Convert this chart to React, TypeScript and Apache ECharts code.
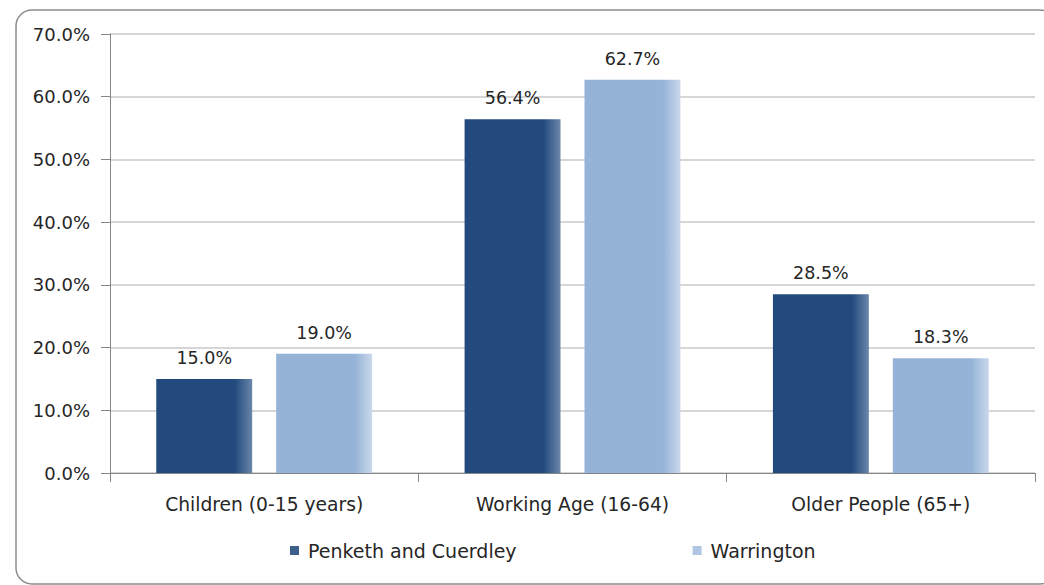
import React, { useEffect, useRef } from "react";
import * as echarts from "echarts";

const categories = ["Children (0-15 years)", "Working Age (16-64)", "Older People (65+)"];
const penketh = [15.0, 56.4, 28.5];
const warrington = [19.0, 62.7, 18.3];
const seriesNames = ["Penketh and Cuerdley", "Warrington"];

const FONT = "DejaVu Sans";
const FS = 17.5;

function barGradient(main: string, edge: string) {
  return new echarts.graphic.LinearGradient(0, 0, 1, 0, [
    { offset: 0, color: main },
    { offset: 0.82, color: main },
    { offset: 1, color: edge },
  ]);
}

export default function App() {
  const ref = useRef<HTMLDivElement>(null);
  useEffect(() => {
    document.body.style.margin = "0";
    const chart = echarts.init(ref.current!, undefined, { renderer: "svg" });
    const labelCfg = {
      show: true,
      position: "top" as const,
      distance: 12,
      fontFamily: FONT,
      fontSize: FS,
      color: "#262626",
      formatter: (p: any) => Number(p.value).toFixed(1) + "%",
    };
    chart.setOption({
      animation: false,
      backgroundColor: "#ffffff",
      graphic: [
        {
          type: "rect",
          shape: { x: 16, y: 10, width: 1040, height: 574, r: 16 },
          style: { fill: "none", stroke: "#8c8c8c", lineWidth: 1.5 },
          z: -1,
          silent: true,
        },
      ],
      grid: { left: 110, right: 9, top: 34, bottom: 112, containLabel: false },
      legend: {
        top: 536,
        left: 285,
        itemWidth: 9,
        itemHeight: 9,
        itemGap: 176,
        icon: "rect",
        textStyle: { fontFamily: FONT, fontSize: 19, color: "#262626", padding: [0, 0, 0, 4] },
        data: [
          { name: seriesNames[0], itemStyle: { color: "#3d5f8c" } },
          { name: seriesNames[1], itemStyle: { color: "#b0c6e2" } },
        ],
      },
      xAxis: {
        type: "category",
        data: categories,
        axisLine: { lineStyle: { color: "#868686", width: 1 } },
        axisTick: { show: true, length: 9, lineStyle: { color: "#868686" } },
        axisLabel: { fontFamily: FONT, fontSize: 18.7, color: "#262626", margin: 22 },
      },
      yAxis: {
        type: "value",
        min: 0,
        max: 70,
        interval: 10,
        axisLine: { show: true, lineStyle: { color: "#868686", width: 1 } },
        axisTick: { show: true, length: 9, lineStyle: { color: "#868686" } },
        splitLine: { lineStyle: { color: "#c8c8c8", width: 1.5 } },
        axisLabel: {
          fontFamily: FONT,
          fontSize: 18,
          color: "#262626",
          margin: 20,
          formatter: (v: number) => v.toFixed(1) + "%",
        },
      },
      series: [
        {
          name: seriesNames[0],
          type: "bar",
          data: penketh,
          barGap: "25%",
          barCategoryGap: "30%",
          itemStyle: { color: barGradient("#224a7d", "#6b86aa") },
          label: labelCfg,
        },
        {
          name: seriesNames[1],
          type: "bar",
          data: warrington,
          itemStyle: { color: barGradient("#95b3d7", "#c9d8eb") },
          label: labelCfg,
        },
      ],
    });
    return () => chart.dispose();
  }, []);
  return <div ref={ref} style={{ width: 1044, height: 585 }} />;
}
